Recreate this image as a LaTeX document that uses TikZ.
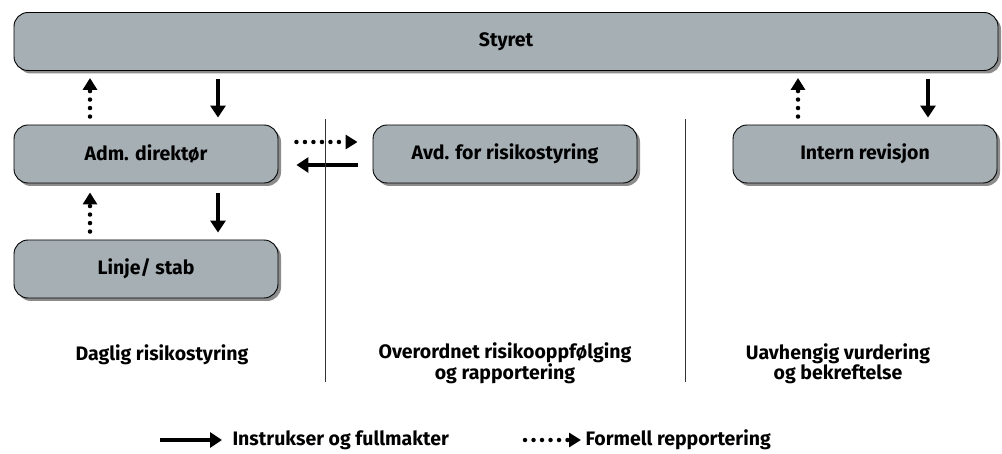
\documentclass[tikz,border=0pt]{standalone}
\usepackage{fontspec}
\setmainfont{Fira Sans}
\usetikzlibrary{arrows.meta,shadows}
\definecolor{boxgray}{HTML}{A6AFB4}
\tikzset{
  unit/.style={draw=black, line width=0.9pt, fill=boxgray, rounded corners=14pt,
    minimum height=58pt, inner sep=0pt, font=\fontsize{19.5}{21}\selectfont\bfseries,
    drop shadow={shadow xshift=3pt, shadow yshift=-3pt, fill=black, opacity=0.45}},
  solidarr/.style={line width=4pt, -{Triangle[width=15pt,length=12pt]}},
  dotarr/.style={line width=4.5pt, line cap=round, dash pattern=on 0pt off 8.5pt,
    -{Triangle[width=14pt,length=12pt,line cap=butt]}},
  divider/.style={draw=black!80, line width=0.8pt},
  caption/.style={font=\fontsize{19.5}{17}\selectfont\bfseries, align=center},
  legendtext/.style={font=\fontsize{19.5}{21}\selectfont\bfseries, anchor=west}
}
\begin{document}
\begin{tikzpicture}[x=1pt,y=-1pt]
\useasboundingbox (0,0) rectangle (1002,454);

% organisational units
\node[unit, minimum width=984pt] (sty) at (506,41.5) {Styret};
\node[unit, minimum width=264pt] (adm) at (146,154) {Adm. direktør};
\node[unit, minimum width=264pt] (lin) at (146,269) {Linje/ stab};
\node[unit, minimum width=264pt] (avd) at (505,154) {Avd. for risikostyring};
\node[unit, minimum width=264pt] (int) at (865,154) {Intern revisjon};

% anchor points for the vertical connectors
\coordinate (admL) at ([xshift=-56pt]adm.north);
\coordinate (admR) at ([xshift=72pt]adm.north);
\coordinate (admLb) at ([xshift=-56pt]adm.south);
\coordinate (admRb) at ([xshift=72pt]adm.south);
\coordinate (intL) at ([xshift=-67pt]int.north);
\coordinate (intR) at ([xshift=63pt]int.north);

% Styret <-> Adm. direktør
\draw[dotarr, shorten <=8pt, shorten >=7pt] (admL) -- (admL |- sty.south);
\draw[solidarr, shorten <=8pt, shorten >=7pt] (admR |- sty.south) -- (admR);

% Adm. direktør <-> Linje/ stab
\draw[dotarr, shorten <=8pt, shorten >=9pt] (admL |- lin.north) -- (admLb);
\draw[solidarr, shorten <=10pt, shorten >=7pt] (admRb) -- (admRb |- lin.north);

% Adm. direktør <-> Avd. for risikostyring
\draw[dotarr, shorten <=18pt, shorten >=15pt] ([yshift=12pt]adm.east) -- ([yshift=12pt]adm.east -| avd.west);
\draw[solidarr, shorten <=15pt, shorten >=18pt] ([yshift=-11pt]avd.west) -- ([yshift=-11pt]avd.west -| adm.east);

% Styret <-> Intern revisjon
\draw[dotarr, shorten <=8pt, shorten >=7pt] (intL) -- (intL |- sty.south);
\draw[solidarr, shorten <=8pt, shorten >=7pt] (intR |- sty.south) -- (intR);

% column dividers
\draw[divider] (325,119) -- (325,382);
\draw[divider] (685,119) -- (685,382);

% column captions
\node[caption] (c1) at (162,355) {Daglig risikostyring};
\node[caption] (c2) at (505,363.5) {Overordnet risikooppfølging\\og rapportering};
\node[caption] (c3) at (838,363.5) {Uavhengig vurdering\\og bekreftelse};

% legend
\coordinate (ls0) at (160,440);
\coordinate (ls1) at (222,440);
\draw[solidarr] (ls0) -- (ls1);
\node[legendtext] (lt1) at (229,440) {Instrukser og fullmakter};
\coordinate (ld0) at (525,440);
\coordinate (ld1) at (581,440);
\draw[dotarr] (ld0) -- (ld1);
\node[legendtext] (lt2) at (582,440) {Formell repportering};
\end{tikzpicture}
\end{document}
